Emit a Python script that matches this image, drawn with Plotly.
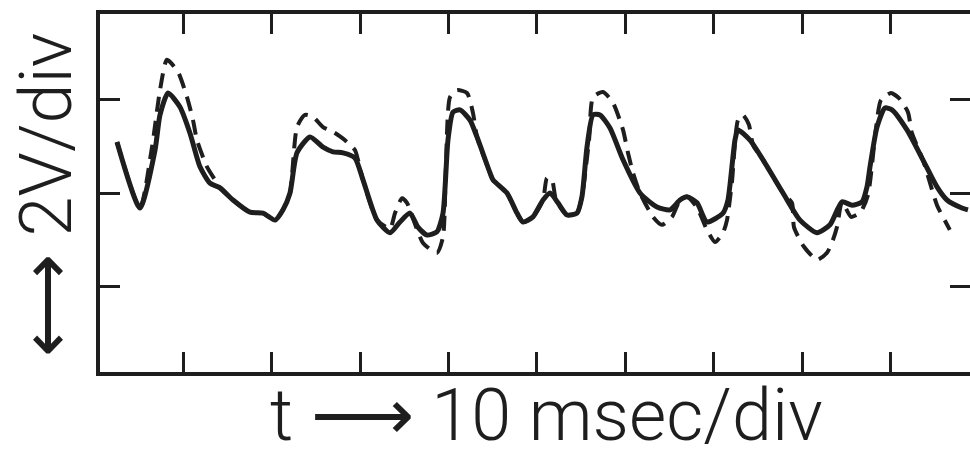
import plotly.graph_objects as go

# Time (ms) and voltage (V) samples for the measured (solid) trace
t_solid = [2.54, 5.14, 6.84, 7.40, 8.31, 9.66, 10.79, 11.92, 13.05, 14.18, 15.65, 17.57,
           19.04, 20.40, 21.30, 22.09, 22.88, 24.35, 25.82, 26.95, 28.08, 29.43, 30.34,
           31.92, 33.39, 34.52, 35.65, 36.55, 37.57, 38.70, 39.38, 39.94, 40.51, 41.30,
           42.43, 43.22, 44.69, 45.03, 46.61, 47.74, 48.42, 49.55, 50.68, 51.47, 52.37,
           53.39, 54.52, 55.08, 55.65, 56.33, 57.12, 58.25, 59.72, 61.64, 63.56, 65.03,
           66.16, 66.95, 68.08, 69.21, 71.02, 71.58, 72.37, 72.71, 74.07, 75.54, 77.80,
           79.72, 81.64, 83.11, 84.47, 85.60, 86.73, 87.29, 87.63, 88.42, 89.32, 90.11,
           91.81, 93.61, 95.20, 96.33, 98.02, 98.70]
v_solid = [5.10, 3.69, 4.93, 5.68, 6.15, 5.85, 5.29, 4.57, 4.22, 4.12, 3.86, 3.60,
           3.58, 3.43, 3.65, 4.01, 4.87, 5.21, 4.99, 4.89, 4.87, 4.76, 4.29,
           3.43, 3.16, 3.39, 3.58, 3.28, 3.11, 3.18, 3.58, 5.14, 5.74, 5.79,
           5.57, 5.21, 4.44, 4.29, 4.01, 3.58, 3.39, 3.50, 3.86, 4.01, 3.80,
           3.54, 3.58, 3.93, 4.99, 5.68, 5.68, 5.40, 4.72, 4.01, 3.71, 3.65,
           3.86, 3.93, 3.80, 3.39, 3.58, 3.86, 5.14, 5.36, 5.14, 4.72, 4.01,
           3.43, 3.16, 3.33, 3.82, 3.75, 3.82, 4.14, 4.57, 5.42, 5.83, 5.79,
           5.36, 4.72, 4.14, 3.86, 3.69, 3.65]

# Time (ms) and voltage (V) samples for the computed (dashed) trace
t_dash = [2.54, 5.14, 6.50, 7.40, 8.19, 9.44, 10.45, 11.13, 11.58, 12.71, 13.62, 14.18,
          15.65, 17.57, 19.04, 20.40, 21.30, 22.09, 22.88, 23.79, 24.69, 25.82, 26.95,
          28.31, 29.43, 29.77, 30.34, 31.92, 33.39, 33.96, 34.75, 35.31, 37.12, 38.70,
          39.38, 39.70, 40.17, 40.96, 42.09, 42.77, 43.22, 44.69, 45.03, 46.61, 47.74,
          48.42, 49.55, 50.68, 51.13, 51.69, 52.15, 53.39, 54.52, 55.08, 55.88, 56.33,
          57.46, 58.59, 59.72, 60.28, 60.85, 61.64, 63.11, 64.12, 65.26, 66.16, 66.95,
          68.08, 69.21, 70.12, 71.02, 71.47, 72.03, 72.71, 73.27, 73.95, 74.41, 75.54,
          77.80, 78.81, 79.04, 80.17, 81.64, 82.77, 83.45, 83.90, 84.47, 85.49, 86.56,
          87.40, 88.31, 88.87, 90.00, 90.90, 91.92, 92.37, 93.61, 95.20, 96.18, 96.65]
v_dash = [5.10, 3.69, 5.00, 6.21, 6.86, 6.60, 6.06, 5.57, 5.14, 4.57, 4.29, 4.12,
          3.86, 3.60, 3.58, 3.43, 3.65, 4.01, 5.42, 5.68, 5.64, 5.42, 5.32,
          5.14, 4.93, 4.72, 4.29, 3.43, 3.25, 3.58, 3.90, 3.80, 2.94, 2.73,
          3.07, 4.50, 6.06, 6.21, 6.15, 5.72, 5.21, 4.44, 4.29, 4.01, 3.58,
          3.39, 3.50, 3.86, 4.33, 4.29, 3.86, 3.54, 3.58, 3.93, 5.14, 6.06,
          6.17, 5.94, 5.36, 4.87, 4.44, 4.01, 3.50, 3.33, 3.50, 3.86, 3.93,
          3.70, 3.22, 2.96, 3.16, 3.43, 4.25, 5.57, 5.68, 5.47, 5.04, 4.72,
          4.01, 3.80, 3.28, 2.86, 2.58, 2.73, 3.01, 3.28, 3.82, 3.50, 3.60,
          3.97, 5.40, 6.00, 6.15, 6.04, 5.74, 5.29, 4.72, 3.75, 3.39, 3.22]

x_ticks = [10, 20, 30, 40, 50, 60, 70, 80, 90]   # 10 ms per division
y_ticks = [2, 4, 6]                              # 2 V per division
x_range = [0.62, 98.93]
y_range = [0.18, 7.84]

ink = "#1e1e1e"
label_font = dict(family="Roboto, DejaVu Sans", weight=300, color=ink)

fig = go.Figure()
fig.add_trace(go.Scatter(x=t_dash, y=v_dash, mode="lines",
                         line=dict(color=ink, width=4, dash="15px,9px", shape="spline",
                                   smoothing=0.6),
                         showlegend=False, hoverinfo="skip"))
fig.add_trace(go.Scatter(x=t_solid, y=v_solid, mode="lines",
                         line=dict(color=ink, width=5, shape="spline", smoothing=0.6),
                         showlegend=False, hoverinfo="skip"))
# Invisible trace that carries the right-hand tick axis
fig.add_trace(go.Scatter(x=x_range, y=y_range, yaxis="y2", mode="lines",
                         line=dict(width=0), showlegend=False, hoverinfo="skip"))

fig.update_layout(
    width=970, height=462,
    margin=dict(l=100, r=0, t=14, b=90),
    paper_bgcolor="white", plot_bgcolor="white",
    xaxis=dict(range=x_range, tickvals=x_ticks, showticklabels=False,
               ticks="inside", ticklen=20, tickwidth=3, tickcolor=ink,
               showline=True, linewidth=4, linecolor=ink, mirror="ticks",
               showgrid=False, zeroline=False, fixedrange=True),
    yaxis=dict(range=y_range, tickvals=y_ticks, showticklabels=False,
               ticks="inside", ticklen=20, tickwidth=3, tickcolor=ink,
               showline=True, linewidth=4, linecolor=ink,
               showgrid=False, zeroline=False, fixedrange=True),
    yaxis2=dict(range=y_range, tickvals=y_ticks, showticklabels=False,
                overlaying="y", side="right",
                ticks="inside", ticklen=20, tickwidth=3, tickcolor=ink,
                showline=False, showgrid=False, zeroline=False, fixedrange=True),
    font=dict(family="Roboto, DejaVu Sans", color=ink),
)

fig.add_annotation(text="t \u27f6 10 msec/div", xref="paper", yref="paper",
                   x=(546 - 100) / 870, y=-(415 - 372) / 358,
                   xanchor="center", yanchor="middle", showarrow=False,
                   font=dict(size=72, **label_font))
fig.add_annotation(text="\u27f7 2V/div", xref="paper", yref="paper",
                   x=-(54) / 870, y=(372 - 195) / 358, textangle=-90,
                   xanchor="center", yanchor="middle", showarrow=False,
                   font=dict(size=72, **label_font))

fig.write_html("out.html")
